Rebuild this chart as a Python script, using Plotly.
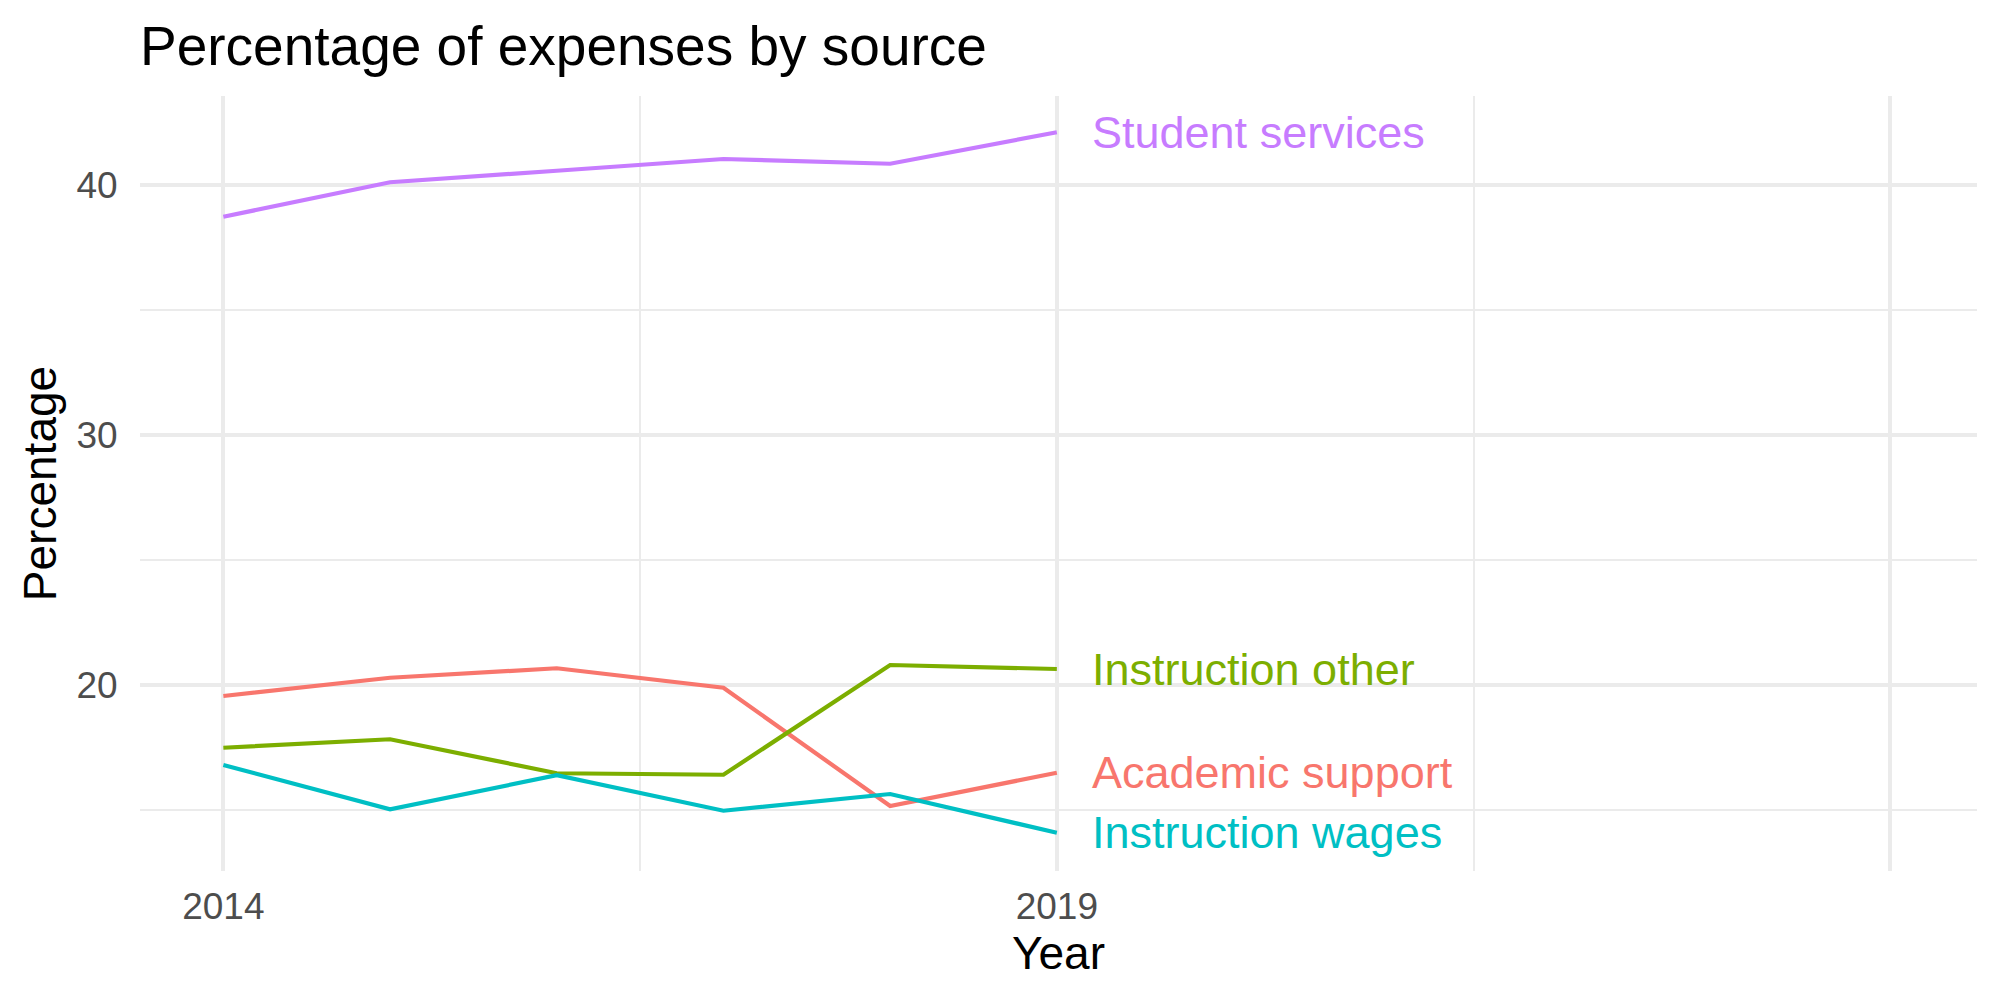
import plotly.graph_objects as go

years = [2014, 2015, 2016, 2017, 2018, 2019]
academic_support = [19.56, 20.29, 20.67, 19.89, 15.16, 16.49]
instruction_other = [17.49, 17.83, 16.47, 16.41, 20.80, 20.64]
instruction_wages = [16.80, 15.03, 16.39, 14.97, 15.64, 14.09]
student_services = [38.73, 40.11, 40.57, 41.04, 40.85, 42.11]

series_names = ["Academic support", "Instruction other", "Instruction wages", "Student services"]
series_values = [academic_support, instruction_other, instruction_wages, student_services]
colors = ["#F8766D", "#7CAE00", "#00BFC4", "#C77CFF"]

x_ticks = [2014, 2019, 2024]
x_ticktext = ["2014", "2019", ""]
x_minor = [2016.5, 2021.5]
y_ticks = [20, 30, 40]
y_minor = [15, 25, 35]
label_x = 2019.2

FONT = "Liberation Sans, Arial, Helvetica, sans-serif"
GRID = "#EBEBEB"

fig = go.Figure()
for name, vals, col in zip(series_names, series_values, colors):
    fig.add_trace(go.Scatter(x=years, y=vals, mode="lines", name=name,
                             line=dict(color=col, width=4.2), showlegend=False))
    fig.add_annotation(x=label_x, y=vals[-1], text=name, showarrow=False,
                       xanchor="left", yanchor="middle",
                       font=dict(family=FONT, size=45, color=col))

fig.update_layout(
    width=2000, height=1000,
    margin=dict(l=140, r=23, t=96, b=129),
    paper_bgcolor="white", plot_bgcolor="white",
    title=dict(text="Percentage of expenses by source", x=140/2000, xanchor="left",
               y=1-46/1000, yanchor="middle",
               font=dict(family=FONT, size=55, color="black")),
    xaxis=dict(range=[2013.5, 2024.52], tickmode="array", tickvals=x_ticks, ticktext=x_ticktext,
               showgrid=True, gridcolor=GRID, gridwidth=3.5, zeroline=False, showline=False,
               ticks="outside", ticklen=3, tickcolor="rgba(0,0,0,0)",
               tickfont=dict(family=FONT, size=37, color="#4D4D4D"),
               minor=dict(tickvals=x_minor, showgrid=True, gridcolor=GRID, gridwidth=1.8, ticks=""),
               title=dict(text="Year", font=dict(family=FONT, size=46, color="black"), standoff=8)),
    yaxis=dict(range=[12.56, 43.56], tickmode="array", tickvals=y_ticks,
               showgrid=True, gridcolor=GRID, gridwidth=3.5, zeroline=False, showline=False,
               ticks="outside", ticklen=14, tickcolor="rgba(0,0,0,0)",
               tickfont=dict(family=FONT, size=37, color="#4D4D4D"),
               minor=dict(tickvals=y_minor, showgrid=True, gridcolor=GRID, gridwidth=1.8, ticks=""),
               title=dict(text="Percentage", font=dict(family=FONT, size=46, color="black"), standoff=5)),
)

fig.write_html("out.html")
